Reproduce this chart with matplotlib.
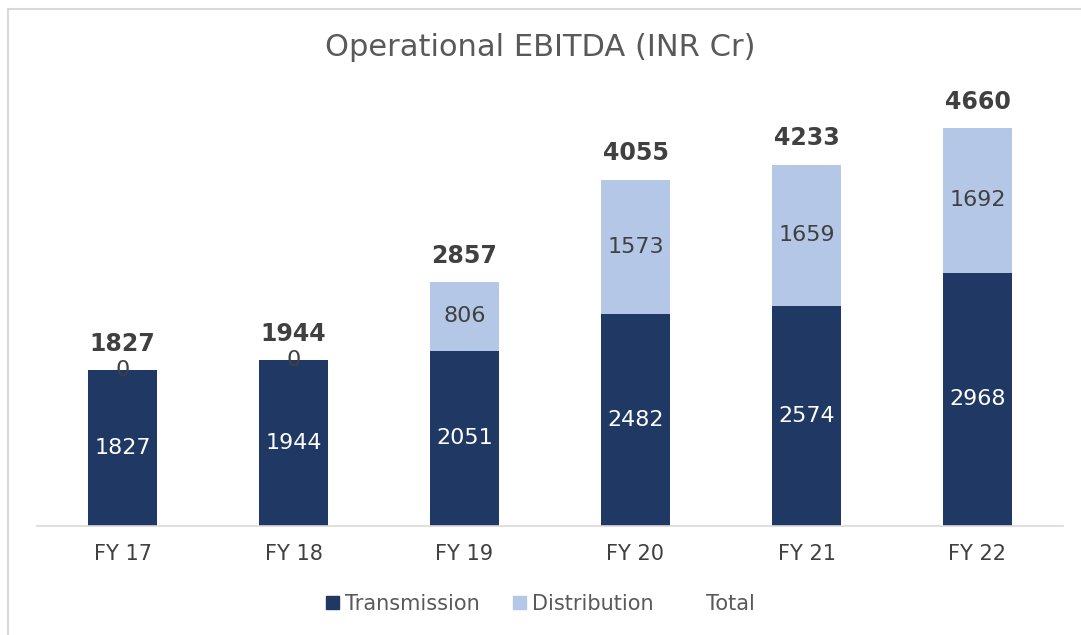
import matplotlib.pyplot as plt
import numpy as np
from matplotlib.patches import Patch

years = ['FY 17', 'FY 18', 'FY 19', 'FY 20', 'FY 21', 'FY 22']
transmission = [1827, 1944, 2051, 2482, 2574, 2968]
distribution = [0, 0, 806, 1573, 1659, 1692]
total = [1827, 1944, 2857, 4055, 4233, 4660]

dark = '#203864'
light = '#B4C7E7'
text_grey = '#404040'

fig = plt.figure(figsize=(10.81, 6.35), dpi=100)
ax = fig.add_axes([37 / 1081, 1 - 526 / 635, 1026 / 1081, 427 / 635])

x = np.arange(len(years))
w = 0.4
ax.bar(x, transmission, w, color=dark, label='Transmission', zorder=2)
ax.bar(x, distribution, w, bottom=transmission, color=light, label='Distribution', zorder=2)

# labels inside the segments
for i in range(len(years)):
    ax.text(x[i], transmission[i] / 2, str(transmission[i]), ha='center', va='center',
            color='white', fontsize=16, zorder=3)
    ax.text(x[i], transmission[i] + distribution[i] / 2, str(distribution[i]),
            ha='center', va='center', color=text_grey, fontsize=16, zorder=3)
    # total above the bar
    ax.text(x[i], total[i] + 310, str(total[i]), ha='center', va='center',
            color=text_grey, fontsize=17, fontweight='bold', zorder=3)

ax.set_xlim(-0.5, len(years) - 0.5)
ax.set_ylim(0, 5000)
ax.set_yticks([])
for s in ['left', 'right', 'top']:
    ax.spines[s].set_visible(False)
ax.spines['bottom'].set_color('#D9D9D9')
ax.spines['bottom'].set_linewidth(1.2)
ax.set_xticks(x)
ax.set_xticklabels(years, fontsize=15, color=text_grey)
ax.tick_params(axis='x', length=0, pad=13)

fig.text(0.5, 1 - 48 / 635, 'Operational EBITDA (INR Cr)', ha='center', va='center',
         fontsize=22, color='#595959')

handles = [Patch(color=dark, label='Transmission'),
           Patch(color=light, label='Distribution'),
           Patch(color='none', label='Total')]
fig.legend(handles=handles, loc='center', bbox_to_anchor=(0.5, 1 - 604 / 635), ncol=3,
           frameon=False, fontsize=15, handlelength=0.6, handleheight=0.6,
           handletextpad=0.3, columnspacing=1.6, labelcolor='#595959')

# light border of the chart area
fig.add_artist(plt.Line2D([8 / 1081, 8 / 1081], [0, 1 - 9 / 635], color='#D9D9D9', lw=1.5))
fig.add_artist(plt.Line2D([8 / 1081, 1], [1 - 9 / 635, 1 - 9 / 635], color='#D9D9D9', lw=1.5))

fig.savefig('out.png', dpi=100, facecolor='white')
